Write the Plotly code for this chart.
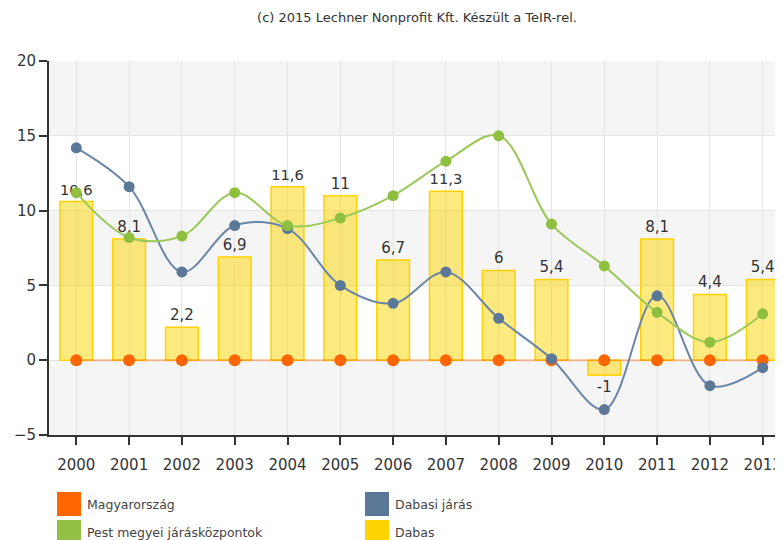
import plotly.graph_objects as go

years = [str(y) for y in range(2000, 2014)]
magyarorszag = [0] * 14
dabasi_jaras = [14.2, 11.6, 5.9, 9.0, 8.8, 5.0, 3.8, 5.9, 2.8, 0.1, -3.3, 4.3, -1.7, -0.5]
pest_megyei = [11.2, 8.2, 8.3, 11.2, 9.0, 9.5, 11.0, 13.3, 15.0, 9.1, 6.3, 3.2, 1.2, 3.1]
dabas = [10.6, 8.1, 2.2, 6.9, 11.6, 11, 6.7, 11.3, 6, 5.4, -1, 8.1, 4.4, 5.4]

legend_names = ["Magyarország", "Dabasi járás", "Pest megyei járásközpontok", "Dabas"]
legend_colors = ["#ff6600", "#5b7899", "#92c145", "#ffd200"]

FONT = "Tahoma, DejaVu Sans, sans-serif"

# plot area as seen on screen (page body adds an 8px offset)
PX0, PX1, PY0, PY1 = 49, 791, 61, 435


def px(sx):
    return (sx - PX0) / (PX1 - PX0)


def py(sy):
    return (PY1 - sy) / (PY1 - PY0)


fig = go.Figure()

fig.add_trace(go.Bar(
    x=years, y=dabas, name="Dabas",
    marker=dict(color="rgba(255,214,0,0.5)", line=dict(color="#ffd200", width=1.5)),
    width=0.62,
    text=[str(v).replace(".", ",") for v in dabas],
    textposition="outside",
    textfont=dict(size=15, color="#333333", family=FONT),
    cliponaxis=False,
    showlegend=False,
))

fig.add_trace(go.Scatter(
    x=years, y=magyarorszag, name="Magyarország", mode="lines+markers",
    line=dict(color="rgba(255,102,0,0.4)", width=2),
    marker=dict(color="#ff6600", size=12),
    showlegend=False,
))

fig.add_trace(go.Scatter(
    x=years, y=dabasi_jaras, name="Dabasi járás", mode="lines+markers",
    line=dict(color="#6a86a8", width=2, shape="spline", smoothing=1.0),
    marker=dict(color="#5b7899", size=11),
    showlegend=False,
))

fig.add_trace(go.Scatter(
    x=years, y=pest_megyei, name="Pest megyei járásközpontok", mode="lines+markers",
    line=dict(color="#9bc85a", width=2, shape="spline", smoothing=1.0),
    marker=dict(color="#8fbf3f", size=11),
    showlegend=False,
))

# alternating background bands
shapes = []
for lo, hi in [(15, 20), (5, 10), (-5, 0)]:
    shapes.append(dict(type="rect", xref="paper", yref="y", x0=0, x1=1, y0=lo, y1=hi,
                       fillcolor="#f5f5f5", line=dict(width=0), layer="below"))

# legend drawn by hand, two columns
annotations = []
positions = [(57, 492), (365, 492), (57, 520), (365, 520)]
for (sx, sy), name, color in zip(positions, legend_names, legend_colors):
    shapes.append(dict(type="rect", xref="paper", yref="paper",
                       x0=px(sx), x1=px(sx + 24), y0=py(sy + 24), y1=py(sy),
                       fillcolor=color, line=dict(width=0)))
    annotations.append(dict(xref="paper", yref="paper", x=px(sx + 28),
                            y=py(sy + 12), xanchor="left", yanchor="middle",
                            text=name, showarrow=False,
                            font=dict(size=12.5, color="#444444", family=FONT)))

fig.update_layout(
    width=783, height=540,
    margin=dict(l=41, r=0, t=53, b=113),
    paper_bgcolor="#ffffff",
    plot_bgcolor="#ffffff",
    separators=", ",
    title=dict(text="(c) 2015 Lechner Nonprofit Kft. Készült a TeIR-rel.",
               x=409 / 783, xanchor="center", yref="container", y=1 - 9 / 540, yanchor="middle",
               font=dict(size=13, color="#333333", family=FONT)),
    font=dict(family=FONT, color="#333333"),
    shapes=shapes,
    annotations=annotations,
)

fig.update_xaxes(
    range=[-0.517, 13.536],
    showgrid=True, gridcolor="#e4e4e4", gridwidth=1,
    showline=True, linecolor="#333333", linewidth=2,
    ticks="outside", ticklen=8, tickcolor="#333333", tickwidth=1.5,
    ticklabelstandoff=7,
    tickfont=dict(size=15, color="#333333"),
    zeroline=False,
)

fig.update_yaxes(
    range=[-5, 20], dtick=5,
    showgrid=True, gridcolor="#e4e4e4", gridwidth=1,
    showline=True, linecolor="#333333", linewidth=2,
    ticks="outside", ticklen=8, tickcolor="#333333", tickwidth=1.5,
    tickfont=dict(size=15, color="#333333"),
    zeroline=False,
)

fig.write_html("out.html")
